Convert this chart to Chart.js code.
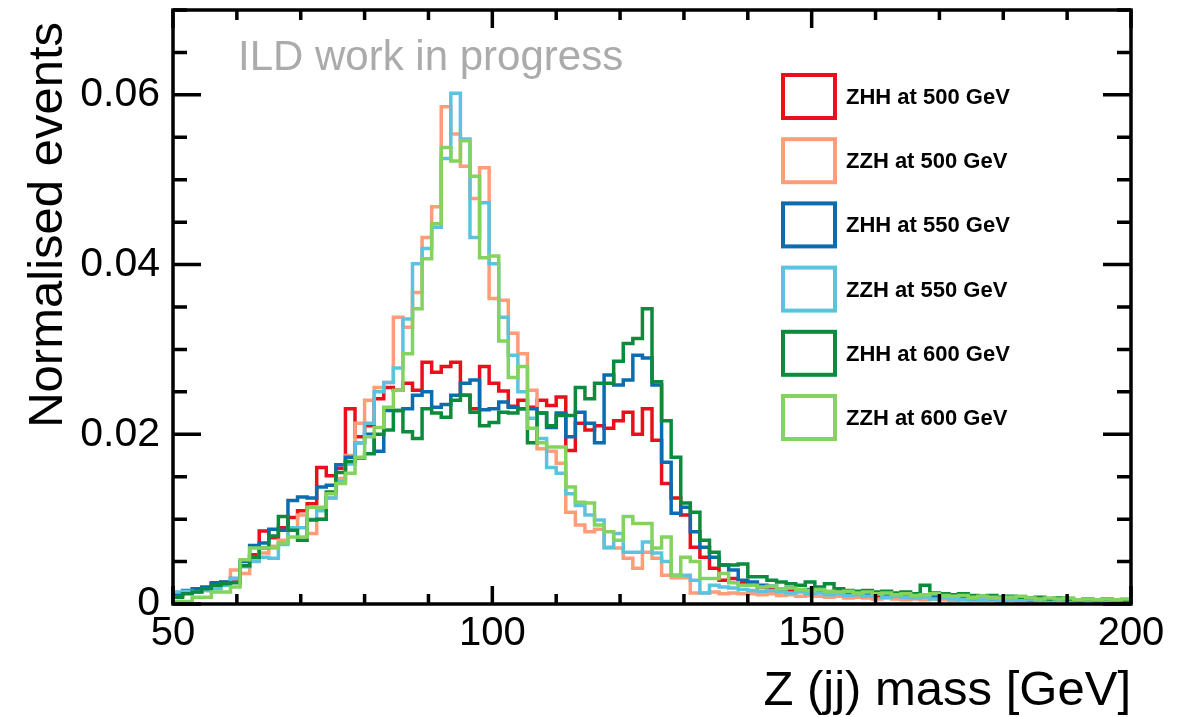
<!DOCTYPE html>
<html>
<head>
<meta charset="utf-8">
<script src="https://cdn.jsdelivr.net/npm/chart.js@4.4.1/dist/chart.umd.min.js"></script>
<style>
    html, body { margin: 0; padding: 0; background: #fff; }
    #wrap { width: 1191px; height: 717px; }
</style>
</head>
<body>
<div id="wrap"><canvas id="myGraph"></canvas></div>
<script>
"use strict";

// histogram binning: 100 bins of 1.5 GeV from 50 to 200
const binLow = 50;
const binWidth = 1.5;
const xTicks = [50, 100, 150, 200];
const yTicks = [0, 0.02, 0.04, 0.06];

const seriesNames = [
    "ZHH at 500 GeV",
    "ZZH at 500 GeV",
    "ZHH at 550 GeV",
    "ZZH at 550 GeV",
    "ZHH at 600 GeV",
    "ZZH at 600 GeV",
];
const seriesColors = ["#e8101a", "#ff9d78", "#0b6cb0", "#5cc3df", "#0b8b3b", "#84d35f"];

const zhh500 = [
    0.0010, 0.0013, 0.0015, 0.0019, 0.0024, 0.0026, 0.0026, 0.0045, 0.0058, 0.0086,
    0.0078, 0.0090, 0.0102, 0.0110, 0.0118, 0.0161, 0.0151, 0.0160, 0.0230, 0.0197,
    0.0210, 0.0242, 0.0255, 0.0252, 0.0260, 0.0252, 0.0285, 0.0273, 0.0280, 0.0285,
    0.0246, 0.0230, 0.0280, 0.0260, 0.0251, 0.0233, 0.0240, 0.0232, 0.0240, 0.0234,
    0.0244, 0.0181, 0.0213, 0.0205, 0.0210, 0.0207, 0.0216, 0.0226, 0.0200, 0.0230,
    0.0193, 0.0142, 0.0125, 0.0105, 0.0067, 0.0055, 0.0042, 0.0028, 0.0030, 0.0024,
    0.0022, 0.0020, 0.0017, 0.0018, 0.0015, 0.0016, 0.0013, 0.0014, 0.0012, 0.0013,
    0.0011, 0.0010, 0.0011, 0.0009, 0.0010, 0.0008, 0.0009, 0.0008, 0.0007, 0.0008,
    0.0007, 0.0006, 0.0007, 0.0006, 0.0005, 0.0006, 0.0005, 0.0006, 0.0004, 0.0005,
    0.0005, 0.0004, 0.0005, 0.0004, 0.0004, 0.0003, 0.0004, 0.0003, 0.0004, 0.0003,
];
const zzh500 = [
    0.0012, 0.0013, 0.0015, 0.0016, 0.0020, 0.0026, 0.0040, 0.0036, 0.0052, 0.0060,
    0.0068, 0.0075, 0.0090, 0.0105, 0.0083, 0.0100, 0.0125, 0.0148, 0.0175, 0.0213,
    0.0240, 0.0255, 0.0261, 0.0338, 0.0326, 0.0367, 0.0432, 0.0468, 0.0586, 0.0554,
    0.0516, 0.0478, 0.0514, 0.0360, 0.0358, 0.0319, 0.0295, 0.0252, 0.0183, 0.0180,
    0.0166, 0.0108, 0.0093, 0.0085, 0.0088, 0.0066, 0.0066, 0.0054, 0.0042, 0.0061,
    0.0054, 0.0034, 0.0031, 0.0031, 0.0013, 0.0013, 0.0014, 0.0012, 0.0013, 0.0012,
    0.0012, 0.0011, 0.0012, 0.0010, 0.0011, 0.0009, 0.0010, 0.0009, 0.0008, 0.0009,
    0.0007, 0.0008, 0.0007, 0.0006, 0.0007, 0.0006, 0.0005, 0.0006, 0.0005, 0.0006,
    0.0005, 0.0004, 0.0005, 0.0004, 0.0005, 0.0004, 0.0003, 0.0004, 0.0003, 0.0004,
    0.0003, 0.0003, 0.0004, 0.0003, 0.0002, 0.0003, 0.0003, 0.0002, 0.0003, 0.0002,
];
const zhh550 = [
    0.0012, 0.0016, 0.0018, 0.0020, 0.0025, 0.0026, 0.0030, 0.0050, 0.0069, 0.0072,
    0.0088, 0.0087, 0.0122, 0.0126, 0.0125, 0.0138, 0.0140, 0.0164, 0.0173, 0.0190,
    0.0200, 0.0180, 0.0228, 0.0228, 0.0230, 0.0246, 0.0250, 0.0232, 0.0235, 0.0246,
    0.0260, 0.0264, 0.0229, 0.0230, 0.0238, 0.0232, 0.0230, 0.0230, 0.0225, 0.0208,
    0.0225, 0.0197, 0.0226, 0.0213, 0.0190, 0.0270, 0.0258, 0.0264, 0.0293, 0.0290,
    0.0258, 0.0167, 0.0107, 0.0114, 0.0085, 0.0067, 0.0055, 0.0046, 0.0040, 0.0028,
    0.0026, 0.0022, 0.0021, 0.0018, 0.0019, 0.0016, 0.0017, 0.0015, 0.0013, 0.0014,
    0.0012, 0.0013, 0.0011, 0.0012, 0.0010, 0.0011, 0.0009, 0.0010, 0.0008, 0.0009,
    0.0008, 0.0007, 0.0008, 0.0006, 0.0007, 0.0006, 0.0005, 0.0006, 0.0005, 0.0004,
    0.0005, 0.0004, 0.0005, 0.0004, 0.0003, 0.0004, 0.0003, 0.0004, 0.0003, 0.0003,
];
const zzh550 = [
    0.0014, 0.0015, 0.0014, 0.0016, 0.0018, 0.0022, 0.0030, 0.0044, 0.0050, 0.0055,
    0.0054, 0.0070, 0.0090, 0.0090, 0.0100, 0.0110, 0.0125, 0.0144, 0.0165, 0.0190,
    0.0213, 0.0250, 0.0261, 0.0278, 0.0336, 0.0401, 0.0419, 0.0444, 0.0525, 0.0602,
    0.0548, 0.0432, 0.0473, 0.0401, 0.0338, 0.0293, 0.0250, 0.0219, 0.0195, 0.0161,
    0.0154, 0.0130, 0.0116, 0.0105, 0.0099, 0.0067, 0.0083, 0.0061, 0.0061, 0.0073,
    0.0060, 0.0050, 0.0034, 0.0034, 0.0028, 0.0013, 0.0022, 0.0020, 0.0019, 0.0017,
    0.0016, 0.0015, 0.0016, 0.0014, 0.0013, 0.0014, 0.0012, 0.0013, 0.0011, 0.0012,
    0.0010, 0.0011, 0.0009, 0.0012, 0.0008, 0.0009, 0.0008, 0.0007, 0.0008, 0.0006,
    0.0007, 0.0006, 0.0005, 0.0006, 0.0005, 0.0006, 0.0004, 0.0005, 0.0004, 0.0005,
    0.0004, 0.0003, 0.0004, 0.0003, 0.0004, 0.0003, 0.0004, 0.0003, 0.0002, 0.0003,
];
const zhh600 = [
    0.0008, 0.0012, 0.0014, 0.0018, 0.0022, 0.0024, 0.0025, 0.0045, 0.0055, 0.0066,
    0.0080, 0.0103, 0.0087, 0.0075, 0.0099, 0.0100, 0.0132, 0.0155, 0.0168, 0.0172,
    0.0177, 0.0200, 0.0205, 0.0228, 0.0203, 0.0195, 0.0230, 0.0225, 0.0220, 0.0240,
    0.0246, 0.0226, 0.0210, 0.0214, 0.0226, 0.0225, 0.0230, 0.0190, 0.0225, 0.0210,
    0.0222, 0.0222, 0.0255, 0.0242, 0.0260, 0.0260, 0.0286, 0.0307, 0.0313, 0.0348,
    0.0262, 0.0216, 0.0173, 0.0119, 0.0108, 0.0075, 0.0061, 0.0046, 0.0046, 0.0047,
    0.0032, 0.0032, 0.0028, 0.0026, 0.0024, 0.0022, 0.0026, 0.0020, 0.0024, 0.0018,
    0.0016, 0.0015, 0.0016, 0.0014, 0.0015, 0.0013, 0.0014, 0.0012, 0.0022, 0.0013,
    0.0012, 0.0011, 0.0012, 0.0010, 0.0009, 0.0010, 0.0008, 0.0009, 0.0008, 0.0007,
    0.0008, 0.0006, 0.0007, 0.0006, 0.0005, 0.0006, 0.0005, 0.0006, 0.0005, 0.0004,
];
const zzh600 = [
    0.0003, 0.0003, 0.0008, 0.0008, 0.0014, 0.0014, 0.0020, 0.0052, 0.0066, 0.0066,
    0.0066, 0.0072, 0.0079, 0.0079, 0.0114, 0.0114, 0.0130, 0.0142, 0.0154, 0.0173,
    0.0197, 0.0208, 0.0232, 0.0252, 0.0295, 0.0348, 0.0407, 0.0448, 0.0538, 0.0522,
    0.0546, 0.0504, 0.0408, 0.0410, 0.0310, 0.0267, 0.0280, 0.0207, 0.0190, 0.0185,
    0.0185, 0.0138, 0.0120, 0.0119, 0.0093, 0.0085, 0.0075, 0.0103, 0.0095, 0.0095,
    0.0066, 0.0079, 0.0034, 0.0055, 0.0050, 0.0030, 0.0030, 0.0036, 0.0025, 0.0022,
    0.0022, 0.0020, 0.0021, 0.0018, 0.0019, 0.0017, 0.0016, 0.0017, 0.0015, 0.0014,
    0.0015, 0.0013, 0.0014, 0.0012, 0.0013, 0.0011, 0.0012, 0.0010, 0.0011, 0.0012,
    0.0010, 0.0009, 0.0010, 0.0008, 0.0009, 0.0008, 0.0007, 0.0008, 0.0009, 0.0007,
    0.0006, 0.0007, 0.0006, 0.0007, 0.0005, 0.0006, 0.0005, 0.0006, 0.0005, 0.0006,
];

const allSeries = [zhh500, zzh500, zhh550, zzh550, zhh600, zzh600];

Chart.defaults.font.family = "'Liberation Sans', Arial, sans-serif";
Chart.defaults.color = "#000";

// turn bin contents into step points at the bin edges
function histPoints(values) {
    let pts = [];
    for (let i = 0; i < values.length; i++) {
        pts.push({ x: binLow + i * binWidth, y: values[i] });
    }
    pts.push({ x: binLow + values.length * binWidth, y: values[values.length - 1] });
    return pts;
}

const datasets = [];
for (let i = 0; i < allSeries.length; i++) {
    datasets.push({
        label: seriesNames[i],
        data: histPoints(allSeries[i]),
        borderColor: seriesColors[i],
        borderWidth: 3.5,
        stepped: true,
        pointRadius: 0,
        fill: false,
        order: allSeries.length - i,
    });
}

// ROOT-like frame with inward ticks, legend and labels
const rootStyle = {
    id: "rootStyle",
    afterDatasetsDraw(chart) {
        const ctx = chart.ctx;
        const a = chart.chartArea;
        const xs = chart.scales.x;
        const ys = chart.scales.y;
        ctx.save();
        ctx.strokeStyle = "#000";
        ctx.lineWidth = 3.5;
        ctx.beginPath();
        for (let v = 50; v <= 200; v += 10) {
            let px = xs.getPixelForValue(v);
            let len = v % 50 === 0 ? 18 : 10;
            ctx.moveTo(px, a.bottom);
            ctx.lineTo(px, a.bottom - len);
            ctx.moveTo(px, a.top);
            ctx.lineTo(px, a.top + len);
        }
        for (let k = 0; k <= 14; k++) {
            let v = k * 0.005;
            let py = ys.getPixelForValue(v);
            let len = k % 4 === 0 ? 28 : 14;
            ctx.moveTo(a.left, py);
            ctx.lineTo(a.left + len, py);
            ctx.moveTo(a.right, py);
            ctx.lineTo(a.right - len, py);
        }
        ctx.stroke();
        ctx.strokeRect(a.left, a.top, a.right - a.left, a.bottom - a.top);

        // watermark
        ctx.fillStyle = "#ababab";
        ctx.font = "42px 'Liberation Sans', Arial, sans-serif";
        ctx.textAlign = "left";
        ctx.textBaseline = "alphabetic";
        ctx.fillText("ILD work in progress", 238, 70);

        // legend
        ctx.font = "bold 22px 'Liberation Sans', Arial, sans-serif";
        ctx.textBaseline = "middle";
        for (let i = 0; i < chart.data.datasets.length; i++) {
            let ds = chart.data.datasets[i];
            let top = 75 + i * 64.2;
            ctx.strokeStyle = ds.borderColor;
            ctx.lineWidth = 4;
            ctx.strokeRect(783, top, 52, 43);
            ctx.fillStyle = "#000";
            ctx.fillText(ds.label, 846, top + 23);
        }

        // axis titles
        ctx.fillStyle = "#000";
        ctx.font = "49px 'Liberation Sans', Arial, sans-serif";
        ctx.textBaseline = "alphabetic";
        ctx.textAlign = "right";
        ctx.fillText("Z (jj) mass [GeV]", a.right, 705);
        ctx.translate(62, 22);
        ctx.rotate(-Math.PI / 2);
        ctx.fillText("Normalised events", 0, 0);
        ctx.restore();
    },
};

const config = {
    type: "line",
    data: { datasets: datasets },
    options: {
        responsive: true,
        maintainAspectRatio: false,
        animation: false,
        layout: { padding: { top: 10, right: 60, left: 0, bottom: 0 } },
        plugins: { legend: { display: false }, tooltip: { enabled: false } },
        scales: {
            x: {
                type: "linear",
                min: 50,
                max: 200,
                grid: { display: false, drawTicks: false },
                border: { display: false },
                afterFit: (s) => {
                    s.height = 113;
                    s.paddingLeft = 0;
                    s.paddingRight = 0;
                },
                afterBuildTicks: (s) => { s.ticks = xTicks.map((v) => ({ value: v })); },
                ticks: {
                    font: { size: 40 },
                    padding: 6,
                    maxRotation: 0,
                    autoSkip: false,
                    callback: (v) => String(v),
                },
            },
            y: {
                type: "linear",
                min: 0,
                max: 0.07,
                grid: { display: false, drawTicks: false },
                border: { display: false },
                afterFit: (s) => {
                    s.width = 173;
                    s.paddingTop = 0;
                    s.paddingBottom = 0;
                },
                afterBuildTicks: (s) => { s.ticks = yTicks.map((v) => ({ value: v })); },
                ticks: {
                    font: { size: 41 },
                    padding: 13,
                    autoSkip: false,
                    callback: (v) => (v === 0 ? "0" : v.toFixed(2)),
                },
            },
        },
    },
    plugins: [rootStyle],
};

new Chart(document.getElementById("myGraph"), config);
</script>
</body>
</html>
